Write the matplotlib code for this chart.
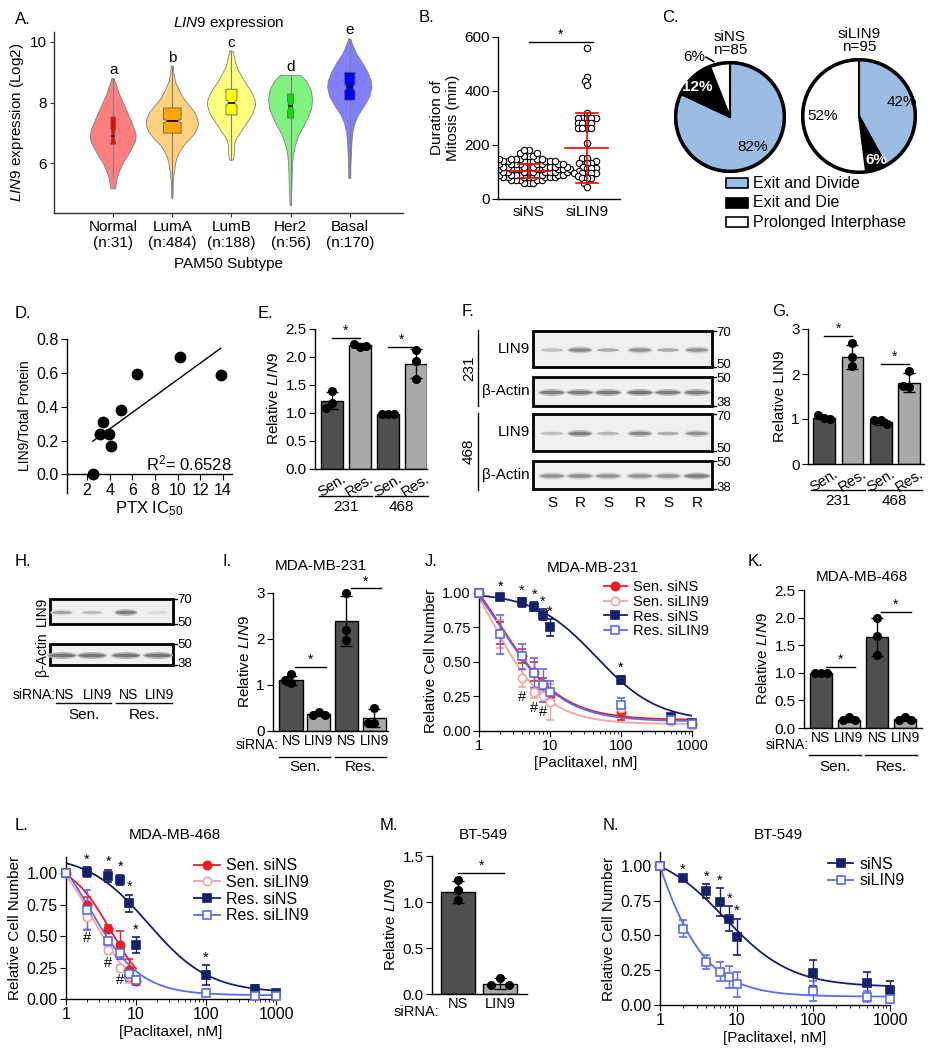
import numpy as np
import matplotlib
matplotlib.use("Agg")
import matplotlib.pyplot as plt
from matplotlib.patches import Rectangle, Ellipse, Polygon, Circle
from matplotlib.lines import Line2D

plt.rcParams["font.family"] = ["Liberation Sans", "DejaVu Sans"]
plt.rcParams["font.size"] = 11
plt.rcParams["mathtext.fontset"] = "custom"
plt.rcParams["mathtext.rm"] = "Liberation Sans"
plt.rcParams["mathtext.it"] = "Liberation Sans:italic"
plt.rcParams["axes.linewidth"] = 1.0
plt.rcParams["xtick.major.size"] = 4
plt.rcParams["ytick.major.size"] = 4
plt.rcParams["xtick.major.pad"] = 2
plt.rcParams["ytick.major.pad"] = 2

# ---------------- data ----------------
# A. LIN9 expression per PAM50 subtype
subtypes = ["Normal", "LumA", "LumB", "Her2", "Basal"]
subtype_n = [31, 484, 188, 56, 170]
subtype_color = ["#FF0000", "#FFA500", "#FFFF00", "#00E600", "#0000FF"]
subtype_letter = ["a", "b", "c", "d", "e"]
# violin outlines: expression level and half width (in px of a 59 px slot)
violin_y = [
    [8.8, 8.6, 8.3, 8.0, 7.7, 7.4, 7.1, 6.9, 6.7, 6.5, 6.2, 6.0, 5.7, 5.5, 5.3, 5.15],
    [9.2, 9.0, 8.7, 8.4, 8.1, 7.9, 7.7, 7.45, 7.25, 7.0, 6.8, 6.6, 6.4, 6.2, 6.0, 5.7, 5.4, 5.0, 4.85],
    [9.7, 9.5, 9.2, 9.0, 8.7, 8.4, 8.1, 7.9, 7.6, 7.3, 7.0, 6.8, 6.6, 6.4, 6.2, 6.1],
    [8.9, 8.7, 8.4, 8.1, 7.8, 7.5, 7.2, 6.9, 6.6, 6.3, 6.0, 5.5, 5.0, 4.6],
    [10.1, 9.9, 9.6, 9.3, 9.0, 8.7, 8.5, 8.2, 7.9, 7.6, 7.3, 7.0, 6.6, 6.2, 5.8, 5.5],
]
violin_w = [
    [1, 3, 6, 10, 14, 18, 21.5, 23, 22, 19, 14, 10, 6, 4, 3, 2.5],
    [1, 1.5, 3, 7, 12, 17, 22, 25.5, 26, 23, 18, 12, 8, 5, 3.5, 2, 1, 0.7, 0.5],
    [1.5, 3, 5, 8, 13, 19, 23.5, 24, 21, 15, 9, 5, 3, 3, 2.5, 2],
    [10, 16, 20.5, 22, 21, 17.5, 13, 8, 5, 3, 2, 1.5, 1, 0.5],
    [1, 3, 7, 13, 18, 21.5, 22, 20, 15, 9, 5, 3, 2, 1.5, 1, 1],
]
box_q1 = [6.62, 6.99, 7.59, 7.49, 8.08]
box_med = [6.90, 7.39, 8.00, 7.88, 8.50]
box_q3 = [7.52, 7.82, 8.44, 8.28, 9.00]
whisk_lo = [5.55, 4.85, 6.10, 4.60, 5.50]
whisk_hi = [8.80, 9.20, 9.70, 8.90, 10.10]

# B. duration of mitosis (min)
siNS_levels = [60, 70, 80, 90, 100, 110, 120, 130, 140, 150, 160, 170, 180]
siNS_counts = [3, 5, 8, 9, 10, 10, 10, 9, 8, 6, 3, 2, 2]
siLIN9_mitosis = [559, 452, 437, 422, 320, 299, 299, 299, 299, 299, 280, 280, 280, 280,
                  262, 262, 262, 262, 209, 151, 151, 140, 132, 132, 132, 120, 114, 114,
                  114, 105, 95, 95, 95, 95, 95, 85, 77, 77, 77, 60, 46]
mitosis_mean = [104, 189]
mitosis_sd = [26, 128]

# C. cell fates
fate_labels = ["Exit and Divide", "Exit and Die", "Prolonged Interphase"]
fate_colors = ["#9BBDE4", "#000000", "#FFFFFF"]
fate_siNS = [82, 12, 6]
fate_siLIN9 = [42, 6, 52]

# D. LIN9 protein vs paclitaxel IC50
ptx_ic50 = [2.5, 3.1, 3.4, 3.9, 4.1, 5.0, 6.4, 10.2, 13.8]
lin9_protein = [0.0, 0.24, 0.31, 0.24, 0.17, 0.38, 0.595, 0.695, 0.585]

# E. / G. relative LIN9 in sensitive vs resistant lines
E_means = [1.22, 2.21, 0.99, 1.88]
E_sd = [0.15, 0.04, 0.01, 0.26]
E_pts = [[1.39, 1.17, 1.09], [2.18, 2.24, 2.19], [0.99, 0.99, 0.99], [2.12, 1.93, 1.61]]
G_means = [1.03, 2.38, 0.93, 1.81]
G_sd = [0.04, 0.26, 0.06, 0.22]
G_pts = [[1.02, 1.08, 1.0], [2.68, 2.38, 2.17], [0.98, 0.97, 0.88], [2.06, 1.72, 1.73]]

# F. / H. western blot band intensities (0-1)
F_231_lin9 = [0.35, 0.65, 0.45, 0.6, 0.45, 0.6]
F_231_actin = [0.7, 0.7, 0.72, 0.75, 0.7, 0.7]
F_468_lin9 = [0.35, 0.7, 0.4, 0.65, 0.45, 0.6]
F_468_actin = [0.6, 0.62, 0.6, 0.6, 0.6, 0.7]
F_lanes = ["S", "R", "S", "R", "S", "R"]
H_lin9 = [0.5, 0.35, 0.7, 0.2]
H_actin = [0.75, 0.75, 0.75, 0.75]

# I. / K. / M. siRNA knockdown
I_means = [1.10, 0.37, 2.39, 0.28]
I_sd = [0.10, 0.04, 0.54, 0.2]
I_pts = [[1.25, 1.1, 1.05], [0.42, 0.35, 0.35], [3.0, 2.2, 1.98], [0.5, 0.17, 0.17]]
K_means = [0.99, 0.15, 1.65, 0.16]
K_sd = [0.01, 0.04, 0.34, 0.04]
K_pts = [[0.99, 0.99, 0.99], [0.2, 0.14, 0.14], [1.99, 1.66, 1.33], [0.2, 0.15, 0.15]]
M_means = [1.11, 0.11]
M_sd = [0.12, 0.06]
M_pts = [[1.24, 1.13, 1.02], [0.17, 0.1, 0.1]]

# J. / L. / N. dose response, relative cell number
conc = [1, 2, 4, 6, 8, 10, 100, 500, 1000]
J_sen_ns = [1.00, 0.71, 0.54, 0.43, 0.34, 0.26, 0.14, 0.09, 0.05]
J_sen_ns_sd = [0, 0.08, 0.05, 0.07, 0.04, 0.04, 0.06, 0.02, 0.02]
J_sen_si = [1.00, 0.70, 0.38, 0.28, 0.25, 0.21, 0.17, 0.07, 0.04]
J_sen_si_sd = [0, 0.10, 0.06, 0.04, 0.04, 0.13, 0.04, 0.02, 0.02]
J_res_ns = [1.00, 0.97, 0.93, 0.90, 0.84, 0.75, 0.37, 0.10, 0.06]
J_res_ns_sd = [0, 0.02, 0.03, 0.03, 0.04, 0.06, 0.03, 0.02, 0.02]
J_res_si = [1.00, 0.70, 0.54, 0.42, 0.33, 0.28, 0.19, 0.08, 0.05]
J_res_si_sd = [0, 0.14, 0.09, 0.11, 0.12, 0.08, 0.05, 0.02, 0.02]
L_conc_sen_ns = [1, 2, 4, 6, 8, 10]
L_sen_ns = [1.00, 0.75, 0.56, 0.43, 0.23, 0.14]
L_sen_ns_sd = [0, 0.06, 0.03, 0.11, 0.09, 0.03]
L_conc_sen_si = [1, 2, 4, 6, 8]
L_sen_si = [1.00, 0.65, 0.39, 0.25, 0.18]
L_sen_si_sd = [0, 0.09, 0.03, 0.02, 0.05]
L_res_ns = [1.00, 1.01, 0.98, 0.95, 0.76, 0.43, 0.19, 0.08, 0.05]
L_res_ns_sd = [0, 0.04, 0.05, 0.04, 0.07, 0.06, 0.08, 0.03, 0.02]
L_res_si = [1.00, 0.71, 0.46, 0.37, 0.20, 0.15, 0.05, 0.02, 0.02]
L_res_si_sd = [0, 0.16, 0.03, 0.05, 0.05, 0.03, 0.03, 0.01, 0.01]
N_ns = [1.00, 0.91, 0.82, 0.74, 0.62, 0.49, 0.23, 0.16, 0.11]
N_ns_sd = [0, 0.01, 0.05, 0.10, 0.09, 0.13, 0.09, 0.08, 0.06]
N_si = [1.00, 0.55, 0.31, 0.24, 0.20, 0.15, 0.10, 0.06, 0.04]
N_si_sd = [0, 0.06, 0.05, 0.07, 0.08, 0.09, 0.07, 0.04, 0.02]
# 4PL fit parameters (top, bottom, IC50, hill)
J_fit = {"sen_ns": (1.45, 0.08, 2.0, 1.0), "sen_si": (1.55, 0.05, 1.5, 1.1),
         "res_ns": (1.0, 0.07, 45, 1.0), "res_si": (1.42, 0.07, 2.05, 1.0)}
L_fit = {"sen_ns": (1.1, 0.0, 4.3, 1.5), "sen_si": (1.25, 0.0, 2.5, 1.4),
         "res_ns": (1.15, 0.05, 15, 1.0), "res_si": (1.4, 0.03, 2.2, 1.2)}
N_fit = {"ns": (1.12, 0.13, 7, 1.0), "si": (3.0, 0.06, 0.5, 1.1)}

RED, PINK, NAVY, LBLUE = "#EE1C25", "#F4A3A3", "#14206E", "#5B6CF0"
DARK, LIGHT = "#4F4F4F", "#A9A9A9"

# ---------------- figure ----------------
W, H = 932, 1050
fig = plt.figure(figsize=(W / 100, H / 100), dpi=100)


def add_ax(l, t, r, b):
    ax = fig.add_axes([l / W, 1 - b / H, (r - l) / W, (b - t) / H])
    ax.set_facecolor("none")
    ax.spines[["top", "right"]].set_visible(False)
    return ax


def fourpl(x, top, bottom, ic50, hill):
    return bottom + (top - bottom) / (1 + (x / ic50) ** hill)


def spread(vals, tol, step):
    offs = []
    for i, v in enumerate(vals):
        for c in [0, -step, step, -2 * step, 2 * step]:
            if all(not (abs(v - vals[j]) < tol and abs(c - offs[j]) < step * 0.9) for j in range(i)):
                offs.append(c)
                break
    return np.array(offs)


def swarm(vals, ypx, d):
    vals = np.asarray(vals, float)
    xs = np.zeros(len(vals))
    placed = []
    for i in np.argsort(vals):
        y = vals[i] * ypx
        cands = [0.0]
        for px, py in placed:
            dy = y - py
            if abs(dy) < d:
                dx = np.sqrt(d * d - dy * dy)
                cands += [px - dx, px + dx]
        for cx in sorted(cands, key=abs):
            if all((cx - px) ** 2 + (y - py) ** 2 >= d * d - 1e-6 for px, py in placed):
                xs[i] = cx
                placed.append((cx, y))
                break
    return xs


def bar_panel(ax, means, sds, pts, colors, width, tol):
    x = np.arange(len(means))
    ax.bar(x, means, width, color=colors, edgecolor="black", lw=1, zorder=1)
    ax.errorbar(x, means, yerr=sds, fmt="none", ecolor="black", elinewidth=1,
                capsize=4, capthick=1, zorder=2)
    for xi, p in zip(x, pts):
        ax.plot(xi + spread(p, tol, 0.22), p, "o", color="black", ms=5.5, zorder=3,
                clip_on=False)
    ax.tick_params(axis="x", length=0)


def sig(ax, x0, x1, y, mark="*"):
    ax.plot([x0, x1], [y, y], color="black", lw=1, clip_on=False)
    ax.text((x0 + x1) / 2, y, mark, ha="center", va="bottom", fontsize=10)


def dose_panel(ax, series, ylim_top, tick_fs):
    handles = []
    for x, y, sd, prm, color, marker, filled in series:
        x = np.asarray(x, float)
        xx = np.logspace(0, np.log10(x.max()), 200)
        ax.plot(xx, fourpl(xx, *prm), color=color, lw=1.3, zorder=2)
        mfc = color if filled else "white"
        ax.errorbar(x, y, yerr=sd, fmt=marker, color=color, mfc=mfc, mec=color, ms=6,
                    mew=1.2, capsize=3, elinewidth=1, capthick=1, zorder=3, clip_on=False)
        handles.append(Line2D([], [], color=color, marker=marker, mfc=mfc, mec=color,
                              ms=6, mew=1.2, lw=1.3))
    ax.set_xscale("log")
    ax.set_xlim(1, 1000)
    ax.set_ylim(0, ylim_top)
    ax.set_xticks([1, 10, 100, 1000])
    ax.set_xticklabels(["1", "10", "100", "1000"])
    ax.set_yticks([0, 0.25, 0.5, 0.75, 1.0])
    ax.set_yticklabels(["0.00", "0.25", "0.50", "0.75", "1.00"])
    ax.tick_params(labelsize=tick_fs)
    ax.tick_params(which="minor", length=2.5)
    ax.set_xlabel("[Paclitaxel, nM]", labelpad=2)
    ax.set_ylabel("Relative Cell Number", labelpad=3)
    return handles


def stars(ax, x, y, sd, idx, mark="*", below=False):
    for i in idx:
        if below:
            ax.text(x[i], y[i] - sd[i] - 0.02, mark, ha="center", va="top", fontsize=10.5)
        else:
            ax.text(x[i], y[i] + sd[i] + 0.005, mark, ha="center", va="bottom", fontsize=10.5)


# ---- A
axA = add_ax(54, 32, 403, 213)
for i in range(5):
    c = i + 1
    vy = np.array(violin_y[i])
    vw = np.array(violin_w[i]) / 59
    axA.fill_betweenx(vy, c - vw, c + vw, facecolor=subtype_color[i], alpha=0.5, lw=0)
    axA.plot(np.r_[c - vw, (c + vw)[::-1], c - vw[0]], np.r_[vy, vy[::-1], vy[0]],
             color="#808080", lw=0.6)
    axA.plot([c, c], [whisk_lo[i], whisk_hi[i]], color="#808080", lw=0.8)
    hw = 0.0068 * np.sqrt(subtype_n[i])
    q1, md, q3 = box_q1[i], box_med[i], box_q3[i]
    nt = 1.58 * (q3 - q1) / np.sqrt(subtype_n[i])
    poly = [(c - hw, q1), (c + hw, q1), (c + hw, md - nt), (c + hw / 2, md), (c + hw, md + nt),
            (c + hw, q3), (c - hw, q3), (c - hw, md + nt), (c - hw / 2, md), (c - hw, md - nt)]
    axA.add_patch(Polygon(poly, closed=True, fc=subtype_color[i], ec="#606060", lw=0.6, zorder=3))
    axA.plot([c - hw / 2, c + hw / 2], [md, md], color="black", lw=1.2, zorder=4)
    axA.text(c, whisk_hi[i] + 0.28, subtype_letter[i], ha="center", va="center", fontsize=11)
axA.set_xlim(0, 5.9)
axA.set_ylim(4.35, 10.33)
axA.set_yticks([6, 8, 10])
axA.set_xticks(range(1, 6))
axA.set_xticklabels([f"{s}\n(n:{n})" for s, n in zip(subtypes, subtype_n)])
axA.tick_params(color="#333333", length=3)
axA.spines[["left", "bottom"]].set_color("#333333")
axA.set_xlabel("PAM50 Subtype", labelpad=5)
axA.set_ylabel(r"$\it{LIN9}$ expression (Log2)", labelpad=3)
axA.set_title(r"$\it{LIN9}$ expression", fontsize=11, pad=3)

# ---- B
axB = add_ax(498, 37, 620, 199)
ns_vals = np.repeat(siNS_levels, siNS_counts)
for k, vals in enumerate([ns_vals, siLIN9_mitosis]):
    xs = k + swarm(vals, 0.27, 4.6) / 58
    axB.plot(xs, vals, "o", mfc="white", mec="black", ms=4.6, mew=0.8, zorder=2)
    m, s = mitosis_mean[k], mitosis_sd[k]
    axB.plot([k - 0.37, k + 0.37], [m, m], color="red", lw=1.2, zorder=3)
    axB.plot([k, k], [m - s, m + s], color="red", lw=1.2, zorder=3)
    axB.plot([k - 0.19, k + 0.19], [m - s, m - s], color="red", lw=1.2, zorder=3)
    axB.plot([k - 0.19, k + 0.19], [m + s, m + s], color="red", lw=1.2, zorder=3)
sig(axB, 0, 1.1, 582)
axB.set_xlim(-0.53, 1.57)
axB.set_ylim(0, 600)
axB.set_yticks([0, 200, 400, 600])
axB.set_xticks([0, 1])
axB.set_xticklabels(["siNS", "siLIN9"])
axB.tick_params(axis="x", length=0, pad=4)
axB.set_ylabel("Duration of\nMitosis (min)", labelpad=3)

# ---- C
for pct, title, box in [(fate_siNS, "siNS\nn=85", (674, 61, 786, 173)),
                        (fate_siLIN9, "siLIN9\nn=95", (801, 58, 917, 174))]:
    axp = fig.add_axes([box[0] / W, 1 - box[3] / H, (box[2] - box[0]) / W, (box[3] - box[1]) / H])
    axp.pie(pct, colors=fate_colors, startangle=90, counterclock=False,
            wedgeprops=dict(edgecolor="black", linewidth=1.5))
    axp.add_patch(Circle((0, 0), 1, fill=False, ec="black", lw=2.6))
    axp.set_xlim(-1.03, 1.03)
    axp.set_ylim(-1.03, 1.03)
    axp.set_aspect("equal")
    axp.text(0, 1.1, title, ha="center", va="bottom", fontsize=11, linespacing=0.95)
    if pct is fate_siNS:
        axp.text(0.42, -0.56, "82%", ha="center", va="center", fontsize=11)
        axp.text(-0.6, 0.55, "12%", ha="center", va="center", fontsize=11,
                 color="white", fontweight="bold")
        axp.text(-0.66, 1.1, "6%", ha="center", va="center", fontsize=11)
        axp.plot([-0.44, -0.3], [1.1, 1.02], color="black", lw=1.2, clip_on=False)
    else:
        axp.text(0.76, 0.24, "42%", ha="center", va="center", fontsize=11)
        axp.text(0.31, -0.79, "6%", ha="center", va="center", fontsize=11,
                 color="white", fontweight="bold")
        axp.text(-0.64, 0.0, "52%", ha="center", va="center", fontsize=11)

# ---- D
axD = add_ax(67, 339, 232, 493)
axD.plot(ptx_ic50, lin9_protein, "o", color="black", ms=7.5, zorder=3, clip_on=False)
slope, icpt = np.polyfit(ptx_ic50, lin9_protein, 1)
fx = np.array([min(ptx_ic50), max(ptx_ic50)])
axD.plot(fx, icpt + slope * fx, color="black", lw=1)
axD.spines["bottom"].set_position(("data", 0))
axD.set_xlim(0.23, 14.8)
axD.set_ylim(-0.11, 0.8)
axD.set_xticks(range(2, 15, 2))
axD.set_yticks([0, 0.2, 0.4, 0.6, 0.8])
axD.set_yticklabels(["0.0", "0.2", "0.4", "0.6", "0.8"])
axD.tick_params(labelsize=11.5)
axD.text(14.8, 0.005, r"R$^2$= 0.6528", ha="right", va="bottom", fontsize=12)
axD.set_xlabel(r"PTX IC$_{50}$", fontsize=12, labelpad=1)
axD.set_ylabel("LIN9/Total Protein", fontsize=10, labelpad=3)

# ---- E
axE = add_ax(315, 329, 427, 469)
bar_panel(axE, E_means, E_sd, E_pts, [DARK, LIGHT, DARK, LIGHT], 0.78, 0.12)
sig(axE, 0, 1, 2.34)
sig(axE, 2, 3, 2.18)
axE.set_xlim(-0.6, 3.4)
axE.set_ylim(0, 2.5)
axE.set_yticks([0, 0.5, 1.0, 1.5, 2.0, 2.5])
axE.set_xticks(range(4))
axE.set_xticklabels(["Sen.", "Res.", "Sen.", "Res."], rotation=32, fontsize=10.5)
axE.set_ylabel(r"Relative $\it{LIN9}$", labelpad=3)

# ---- G
axG = add_ax(808, 329, 924, 464)
bar_panel(axG, G_means, G_sd, G_pts, [DARK, LIGHT, DARK, LIGHT], 0.77, 0.15)
sig(axG, 0, 1, 2.84)
sig(axG, 2, 3, 2.22)
axG.set_xlim(-0.57, 3.53)
axG.set_ylim(0, 3)
axG.set_yticks([0, 1, 2, 3])
axG.set_xticks(range(4))
axG.set_xticklabels(["Sen.", "Res.", "Sen.", "Res."], rotation=32, fontsize=10.5)
axG.set_ylabel("Relative LIN9", labelpad=3)

# ---- I
axI = add_ax(273, 593, 388, 731)
bar_panel(axI, I_means, I_sd, I_pts, [DARK, LIGHT, DARK, LIGHT], 0.84, 0.15)
sig(axI, 0.15, 1.25, 1.39)
sig(axI, 2.15, 3.25, 3.1)
axI.set_xlim(-0.65, 3.5)
axI.set_ylim(0, 3)
axI.set_yticks([0, 1, 2, 3])
axI.set_xticks(range(4))
axI.set_xticklabels(["NS", "LIN9", "NS", "LIN9"], fontsize=10)
axI.set_ylabel(r"Relative $\it{LIN9}$", labelpad=3)

# ---- K
axK = add_ax(804, 590, 922, 728)
bar_panel(axK, K_means, K_sd, K_pts, [DARK, LIGHT, DARK, LIGHT], 0.8, 0.12)
sig(axK, 0.2, 1.2, 1.11)
sig(axK, 2.15, 3.2, 2.1)
axK.set_xlim(-0.6, 3.6)
axK.set_ylim(0, 2.5)
axK.set_yticks([0, 0.5, 1.0, 1.5, 2.0, 2.5])
axK.set_xticks(range(4))
axK.set_xticklabels(["NS", "LIN9", "NS", "LIN9"], fontsize=10)
axK.set_ylabel(r"Relative $\it{LIN9}$", labelpad=3)

# ---- M
axM = add_ax(432, 856, 527, 994)
bar_panel(axM, M_means, M_sd, M_pts, [DARK, LIGHT], 0.79, 0.075)
sig(axM, 0, 1.1, 1.32)
axM.set_xlim(-0.62, 1.64)
axM.set_ylim(0, 1.5)
axM.set_yticks([0, 0.5, 1.0, 1.5])
axM.set_xticks([0, 1])
axM.set_xticklabels(["NS", "LIN9"], fontsize=10.5)
axM.set_ylabel(r"Relative $\it{LIN9}$", labelpad=3)

# ---- J
axJ = add_ax(479, 590, 692, 731)
hJ = dose_panel(axJ, [
    (conc, J_sen_ns, J_sen_ns_sd, J_fit["sen_ns"], RED, "o", True),
    (conc, J_sen_si, J_sen_si_sd, J_fit["sen_si"], PINK, "o", False),
    (conc, J_res_ns, J_res_ns_sd, J_fit["res_ns"], NAVY, "s", True),
    (conc, J_res_si, J_res_si_sd, J_fit["res_si"], LBLUE, "s", False)], 1.02, 10.5)
stars(axJ, conc, J_res_ns, J_res_ns_sd, range(1, 7))
stars(axJ, conc, J_sen_si, J_sen_si_sd, [2, 3, 4], "#", below=True)
axJ.legend(hJ, ["Sen. siNS", "Sen. siLIN9", "Res. siNS", "Res. siLIN9"], loc="upper left",
           bbox_to_anchor=(0.585, 1.07), frameon=False, handlelength=1.6, labelspacing=0.05,
           handletextpad=0.4, borderaxespad=0, borderpad=0, fontsize=10.5)

# ---- L
axL = add_ax(66, 857, 276, 999)
hL = dose_panel(axL, [
    (L_conc_sen_ns, L_sen_ns, L_sen_ns_sd, L_fit["sen_ns"], RED, "o", True),
    (L_conc_sen_si, L_sen_si, L_sen_si_sd, L_fit["sen_si"], PINK, "o", False),
    (conc, L_res_ns, L_res_ns_sd, L_fit["res_ns"], NAVY, "s", True),
    (conc, L_res_si, L_res_si_sd, L_fit["res_si"], LBLUE, "s", False)], 1.13, 11.5)
stars(axL, conc, L_res_ns, L_res_ns_sd, range(1, 7))
stars(axL, L_conc_sen_si, L_sen_si, L_sen_si_sd, [1, 2, 3], "#", below=True)
axL.legend(hL, ["Sen. siNS", "Sen. siLIN9", "Res. siNS", "Res. siLIN9"], loc="upper left",
           bbox_to_anchor=(0.61, 0.99), frameon=False, handlelength=1.6, labelspacing=0.1,
           handletextpad=0.4, borderaxespad=0, borderpad=0, fontsize=11.5)

# ---- N
axN = add_ax(660, 852, 890, 1005)
hN = dose_panel(axN, [
    (conc, N_ns, N_ns_sd, N_fit["ns"], NAVY, "s", True),
    (conc, N_si, N_si_sd, N_fit["si"], LBLUE, "s", False)], 1.1, 11.5)
stars(axN, conc, N_ns, N_ns_sd, range(1, 6))
axN.legend(hN, ["siNS", "siLIN9"], loc="upper left", bbox_to_anchor=(0.73, 0.97),
           frameon=False, handlelength=1.6, labelspacing=0.1, handletextpad=0.4,
           borderaxespad=0, borderpad=0, fontsize=11.5)

# ---------------- overlay in pixel coordinates ----------------
ov = fig.add_axes([0, 0, 1, 1])
ov.set_xlim(0, W)
ov.set_ylim(H, 0)
ov.axis("off")


def px_x(ax, x):
    return ax.transData.transform((x, 1))[0]


def groups_under(ax, groups, y_line, y_text, half=0.42, fs=11):
    for i0, i1, label in groups:
        x0, x1 = px_x(ax, i0 - half), px_x(ax, i1 + half)
        ov.plot([x0, x1], [y_line, y_line], color="black", lw=1)
        ov.text((x0 + x1) / 2, y_text, label, ha="center", va="center", fontsize=fs)


def blot(x0, y0, x1, y1, lanes, levels, band_w):
    ov.add_patch(Rectangle((x0, y0), x1 - x0, y1 - y0, fc="#F0F0F0", ec="black", lw=2, zorder=2))
    yc = (y0 + y1) / 2 + 1
    for x, v in zip(lanes, levels):
        g = 1 - 0.72 * v
        ov.add_patch(Ellipse((x, yc), band_w * 1.15, 7, fc=str(min(0.93, g + 0.25)), ec="none", zorder=3))
        ov.add_patch(Ellipse((x, yc), band_w, 3.5, fc=str(g), ec="none", zorder=4))


def mw(x, y, label, shift):
    ov.plot([x, x + 4], [y, y], color="black", lw=1)
    ov.text(x + 4.5, y + shift, label, ha="left", va="center", fontsize=9.5)


# panel letters
for lab, x, y in [("A.", 15, 19), ("B.", 419, 17), ("C.", 662, 18), ("D.", 15, 313),
                  ("E.", 258, 313), ("F.", 462, 312), ("G.", 772, 312), ("H.", 15, 562),
                  ("I.", 223, 562), ("J.", 425, 562), ("K.", 748, 562), ("L.", 15, 825),
                  ("M.", 380, 825), ("N.", 603, 825)]:
    ov.text(x, y, lab, ha="left", va="center", fontsize=12)

# panel titles
for t, x, y in [("MDA-MB-231", 321, 566), ("MDA-MB-231", 593, 568), ("MDA-MB-468", 862, 577),
                ("MDA-MB-468", 175, 835), ("BT-549", 483, 835), ("BT-549", 778, 835)]:
    ov.text(x, y, t, ha="center", va="center", fontsize=11)

# C legend
for k, (lab, col) in enumerate(zip(fate_labels, fate_colors)):
    yc = 183 + 19.5 * k
    ov.add_patch(Rectangle((726, yc - 5), 22, 10, fc=col, ec="black", lw=1.2))
    ov.text(753, yc, lab, ha="left", va="center", fontsize=11.5)

# E / G group labels
groups_under(axE, [(0, 1, "231"), (2, 3, "468")], 496, 507, 0.45)
groups_under(axG, [(0, 1, "231"), (2, 3, "468")], 490, 501, 0.45)
# I / K / M siRNA labels
for ax, yl, yline, ytext in [(axI, 745, 757, 767), (axK, 745, 755, 767), (axM, 1012, None, None)]:
    ov.text(px_x(ax, -0.45), yl, "siRNA:", ha="right", va="center",
            fontsize=10.5 if ax is axM else 10)
    if yline is not None:
        groups_under(ax, [(0, 1, "Sen."), (2, 3, "Res.")], yline, ytext)

# F blots
F_x = [552, 580, 608, 640, 668, 697]
blot(533, 331, 712, 367, F_x, F_231_lin9, 22)
blot(533, 377, 712, 406, F_x, F_231_actin, 24)
blot(533, 414, 712, 451, F_x, F_468_lin9, 22)
blot(533, 461, 712, 489, F_x, F_468_actin, 24)
for y, lab in [(349, "LIN9"), (391.5, "β-Actin"), (432.5, "LIN9"), (475, "β-Actin")]:
    ov.text(530, y, lab, ha="right", va="center", fontsize=11)
for (ya, yb), lab in [((330, 406), "231"), ((413, 490), "468")]:
    ov.plot([478, 478], [ya, yb], color="black", lw=1)
    ov.text(469, (ya + yb) / 2, lab, ha="center", va="center", rotation=90, fontsize=11)
for y, lab, sh in [(331, "70", 1.5), (367, "50", -2.5), (377, "50", 2.5), (406, "38", -3),
                   (414, "70", 3), (451, "50", -2.5), (461, "50", 2.5), (489, "38", -1)]:
    mw(712, y, lab, sh)
for x, lab in zip(F_x, F_lanes):
    ov.text(x, 503, lab, ha="center", va="center", fontsize=11)

# H blot
H_x = [62, 92, 126, 158]
blot(50, 599, 173, 624, H_x, H_lin9, 20)
blot(50, 644, 173, 665, H_x, H_actin, 26)
ov.text(42, 611, "LIN9", ha="center", va="center", rotation=90, fontsize=10)
ov.text(42, 654, "β-Actin", ha="center", va="center", rotation=90, fontsize=10)
for y, lab, sh in [(599, "70", 1), (624, "50", -1), (644, "50", 1), (665, "38", -1)]:
    mw(173, y, lab, sh)
ov.text(56, 695, "siRNA:", ha="right", va="center", fontsize=10)
for x, lab in zip([65, 98, 128, 160], ["NS", "LIN9", "NS", "LIN9"]):
    ov.text(x, 695, lab, ha="center", va="center", fontsize=10)
for x0, x1, lab in [(56, 111, "Sen."), (116, 172, "Res.")]:
    ov.plot([x0, x1], [703, 703], color="black", lw=1)
    ov.text((x0 + x1) / 2, 715, lab, ha="center", va="center", fontsize=11)

fig.savefig("out.png", dpi=100)
